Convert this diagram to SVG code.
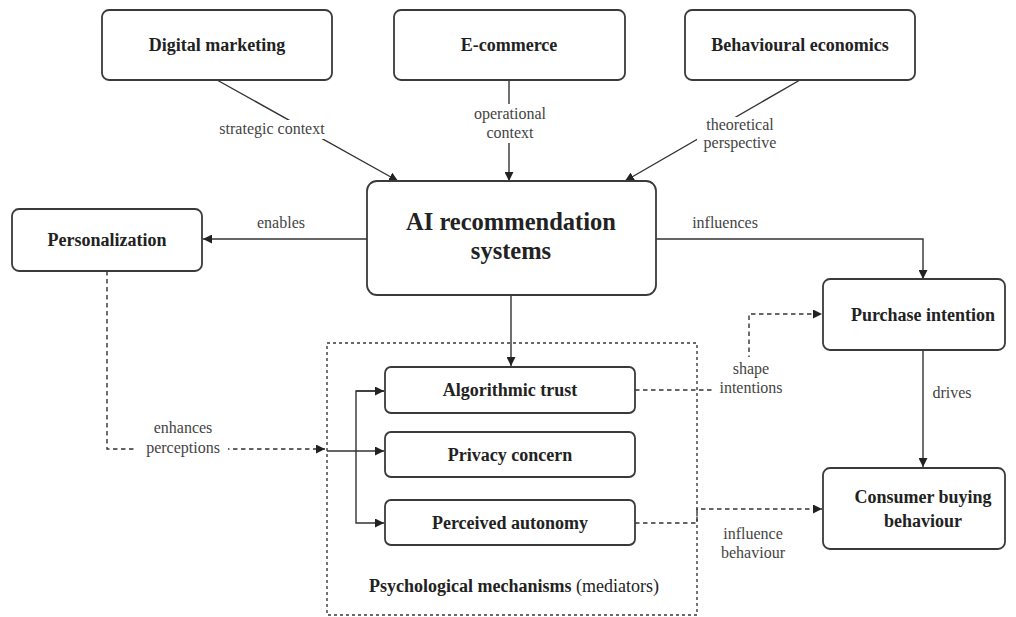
<svg xmlns="http://www.w3.org/2000/svg" width="1016" height="617" viewBox="0 0 1016 617">
<style>
.box{fill:#fff;stroke:#3a3a3a;stroke-width:1.8}
.cont{fill:none;stroke:#3a3a3a;stroke-width:1.4;stroke-dasharray:3 3}
.t{font-family:'Liberation Serif','DejaVu Serif',serif;font-weight:bold;font-size:18px;fill:#222;text-anchor:middle}
.big{font-size:24.5px}
.lbl{font-family:'Liberation Serif','DejaVu Serif',serif;font-size:16px;fill:#444;text-anchor:middle}
.ln{fill:none;stroke:#333;stroke-width:1.4}
.dash{stroke-dasharray:4.5 3.5}
.bg{fill:#fff;stroke:none}
</style>
<defs>
<marker id="ah" viewBox="0 0 10 10" refX="10" refY="5" markerWidth="9" markerHeight="9" markerUnits="userSpaceOnUse" orient="auto">
<path d="M0,0 L10,5 L0,10 z" fill="#222"/>
</marker>
</defs>
<rect width="1016" height="617" fill="#fff"/>

<g id="connectors">
<line class="ln" x1="217" y1="80" x2="398" y2="181" marker-end="url(#ah)"/>
<line class="ln" x1="509" y1="80" x2="509" y2="181" marker-end="url(#ah)"/>
<line class="ln" x1="800" y1="80" x2="625" y2="181" marker-end="url(#ah)"/>
<line class="ln" x1="367" y1="239" x2="203" y2="239" marker-end="url(#ah)"/>
<path class="ln" d="M656,239 H923 V279" marker-end="url(#ah)"/>
<line class="ln" x1="511" y1="295" x2="511" y2="366" marker-end="url(#ah)"/>
<path class="ln dash" d="M107,271 V449 H325" marker-end="url(#ah)"/>
<line class="ln" x1="327" y1="451" x2="384" y2="451" marker-end="url(#ah)"/>
<path class="ln" d="M384,391 H356 V523 H384" marker-end="url(#ah)"/>
<line class="ln" x1="356" y1="391" x2="384" y2="391" marker-end="url(#ah)"/>
<path class="ln dash" d="M635,390 H749 V314 H822" marker-end="url(#ah)"/>
<path class="ln dash" d="M635,523 H697 V509 H822" marker-end="url(#ah)"/>
<line class="ln" x1="923" y1="350" x2="923" y2="467" marker-end="url(#ah)"/>

<rect class="bg" x="218" y="120" width="109" height="19"/>
<text class="lbl" x="272" y="134">strategic context</text>
<rect class="bg" x="474" y="104" width="71" height="39"/>
<text class="lbl" x="510" y="119">operational</text>
<text class="lbl" x="510" y="138">context</text>
<rect class="bg" x="697" y="117" width="86" height="36"/>
<text class="lbl" x="740" y="130">theoretical</text>
<text class="lbl" x="740" y="148">perspective</text>
<text class="lbl" x="281" y="228">enables</text>
<text class="lbl" x="725" y="228">influences</text>
<rect class="bg" x="137" y="418" width="91" height="40"/>
<text class="lbl" x="183" y="433">enhances</text>
<text class="lbl" x="183" y="453">perceptions</text>
<rect class="bg" x="712" y="357" width="80" height="41"/>
<text class="lbl" x="751" y="374">shape</text>
<text class="lbl" x="751" y="393">intentions</text>
<text class="lbl" x="753" y="539">influence</text>
<text class="lbl" x="753" y="558">behaviour</text>
<text class="lbl" x="952" y="398">drives</text>
</g>

<g id="digital-marketing"><rect class="box" x="102" y="10" width="230" height="70" rx="7"/><text class="t" x="217" y="51">Digital marketing</text></g>
<g id="e-commerce"><rect class="box" x="394" y="10" width="231" height="70" rx="7"/><text class="t" x="509" y="51">E-commerce</text></g>
<g id="behavioural-economics"><rect class="box" x="685" y="10" width="230" height="70" rx="7"/><text class="t" x="800" y="51">Behavioural economics</text></g>
<g id="ai-recommendation-systems"><rect class="box" x="367" y="181" width="289" height="114" rx="10"/><text class="t big" x="511" y="230">AI recommendation</text><text class="t big" x="511" y="259">systems</text></g>
<g id="personalization"><rect class="box" x="12" y="209" width="190" height="62" rx="7"/><text class="t" x="107" y="246">Personalization</text></g>
<g id="purchase-intention"><rect class="box" x="823" y="279" width="182" height="71" rx="7"/><text class="t" x="923" y="321">Purchase intention</text></g>
<g id="consumer-buying-behaviour"><rect class="box" x="823" y="468" width="182" height="81" rx="7"/><text class="t" x="923" y="503">Consumer buying</text><text class="t" x="923" y="527">behaviour</text></g>
<g id="psychological-mechanisms">
<rect class="cont" x="327" y="343" width="370" height="272"/>
<text class="t" x="514" y="592">Psychological mechanisms <tspan style="font-weight:normal">(mediators)</tspan></text>
</g>
<g id="algorithmic-trust"><rect class="box" x="385" y="367" width="250" height="46" rx="6"/><text class="t" x="510" y="396">Algorithmic trust</text></g>
<g id="privacy-concern"><rect class="box" x="385" y="432" width="250" height="45" rx="6"/><text class="t" x="510" y="461">Privacy concern</text></g>
<g id="perceived-autonomy"><rect class="box" x="385" y="500" width="250" height="45" rx="6"/><text class="t" x="510" y="529">Perceived autonomy</text></g>
</svg>
